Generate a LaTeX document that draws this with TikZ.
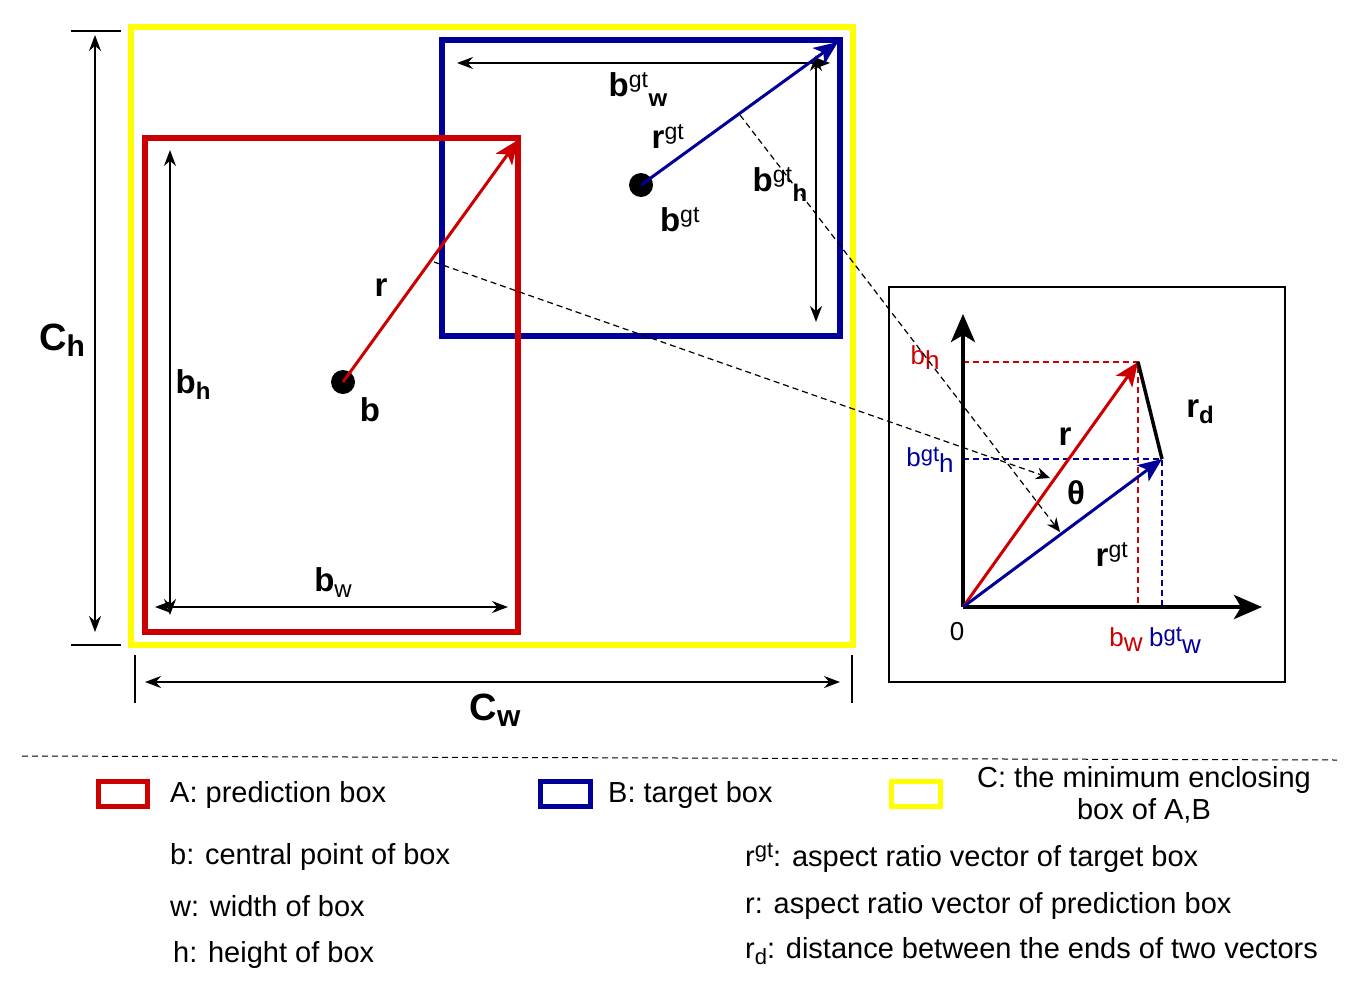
\documentclass[tikz,border=0pt]{standalone}
\usepackage{fontspec}
\setmainfont{Liberation Sans}
\usetikzlibrary{arrows.meta}
\definecolor{rd}{RGB}{204,0,0}
\definecolor{bl}{RGB}{0,0,153}
\definecolor{yl}{RGB}{255,255,0}
\begin{document}
\begin{tikzpicture}[x=1pt,y=-1pt,
  big/.style={font=\fontsize{33}{33}\selectfont\bfseries,inner sep=0},
  lab/.style={font=\fontsize{26}{26}\selectfont,inner sep=0},
  leg/.style={font=\fontsize{29}{32}\selectfont,inner sep=0,anchor=west},
  dim/.style={line width=1.6pt,{Stealth[length=16pt,width=12pt]}-{Stealth[length=16pt,width=12pt]}},
  vec/.style={line width=3pt,-{Stealth[length=24pt,width=20pt,inset=6pt]}},
  dsh/.style={dashed,line width=1.2pt,dash pattern=on 6pt off 4pt}]
\useasboundingbox (0,0) rectangle (1364,993);
% boxes
\draw[yl,line width=6pt] (131,27) rectangle (853,645);
\draw[bl,line width=6pt] (442,40) rectangle (840,336);
\draw[rd,line width=6pt] (145,138) rectangle (518,632);
% dims
\draw[dim] (457,63) -- (830,63);
\draw[dim] (816,55) -- (816,322);
\draw[dim] (170,150) -- (170,615);
\draw[dim] (155,607) -- (508,607);
\draw[line width=1.2pt] (71,31) -- (121,31) (71,645) -- (121,645) (135,655) -- (135,703) (852,655) -- (852,703);
\draw[dim] (95,35) -- (95,632);
\draw[dim] (145,682) -- (840,682);
% vectors
\node[circle,fill=black,minimum size=24pt,inner sep=0] (b) at (343,382) {};
\node[circle,fill=black,minimum size=24pt,inner sep=0] (bg) at (641,185) {};
\coordinate (rt) at (518,140);
\coordinate (gt) at (838,42);
\draw[rd,vec] (b.center) -- (rt);
\draw[bl,vec] (bg.center) -- (gt);
% labels main
\node[big] at (638,90) {b$^{\mathrm{gt}}$\raisebox{-10pt}{\fontsize{24}{24}\selectfont w}};
\node[big] at (668,137) {r$^{\mathrm{gt}}$};
\node[big] at (780,185) {b$^{\mathrm{gt}}$\raisebox{-10pt}{\fontsize{24}{24}\selectfont h}};
\node[big] at (680,220) {b$^{\mathrm{gt}}$};
\node[big] at (381,288) {r};
\node[big] at (193,385) {b\raisebox{-6pt}{\fontsize{24}{24}\selectfont h}};
\node[big] at (370,410) {b};
\node[big] at (333,583) {b\raisebox{-6pt}{\fontsize{24}{24}\selectfont\mdseries w}};
\node[big,font=\fontsize{38}{38}\selectfont\bfseries] at (62,340) {C\raisebox{-6pt}{\fontsize{30}{30}\selectfont h}};
\node[big,font=\fontsize{38}{38}\selectfont\bfseries] at (495,710) {C\raisebox{-6pt}{\fontsize{30}{30}\selectfont w}};
% inset
\draw[line width=1.5pt] (889,287) rectangle (1285,682);
\coordinate (o) at (963,607);
\coordinate (ir) at (1138,362);
\coordinate (ig) at (1162,459);
\draw[rd,dsh] (963,362) -- (ir) -- (1138,607);
\draw[bl,dsh] (963,459) -- (ig) -- (1162,607);
\draw[line width=4pt,-{Stealth[length=28pt,width=24pt,inset=7pt]}] (o) -- (963,314);
\draw[line width=4pt,-{Stealth[length=28pt,width=24pt,inset=7pt]}] (o) -- (1262,607);
\draw[rd,vec] (o) -- (ir);
\draw[bl,vec] (o) -- (ig);
\draw[line width=3.5pt] (ir) -- (ig);
\node[lab,text=rd] at (925,358) {b\raisebox{-5pt}{h}};
\node[lab,text=bl] at (930,460) {b\raisebox{5pt}{\fontsize{22}{22}\selectfont gt}\raisebox{-6pt}{h}};
\node[big] at (1065,437) {r};
\node[big] at (1076,493) {θ};
\node[big] at (1112,555) {r$^{\mathrm{gt}}$};
\node[big] at (1200,412) {r\raisebox{-6pt}{\fontsize{24}{24}\selectfont d}};
\node[lab] at (957,632) {0};
\node[lab,text=rd] at (1126,640) {b\raisebox{-5pt}{w}};
\node[lab,text=bl] at (1175,640) {b\raisebox{5pt}{\fontsize{22}{22}\selectfont gt}\raisebox{-7pt}{w}};
% connecting dashed
\coordinate (p1) at (434,262);
\coordinate (p2) at (740,115);
\draw[dsh,-{Stealth[length=14pt,width=12pt]}] (p1) -- (1050,478);
\draw[dsh,-{Stealth[length=14pt,width=12pt]}] (p2) -- (1060,532);
% separator
\draw[dsh,line width=1pt] (22,756) -- (1337,760);
% legend
\draw[rd,line width=5pt] (98,781) rectangle (147,806);
\draw[bl,line width=5pt] (540,781) rectangle (590,806);
\draw[yl,line width=5pt] (891,781) rectangle (940,806);
\node[leg] at (170,795) {A: prediction box};
\node[leg] at (608,795) {B: target box};
\node[leg,align=center,anchor=center] at (1144,795) {C: the minimum enclosing\\box of A,B};
\node[leg] at (170,857) {b: central point of box};
\node[leg] at (170,906) {w: width of box};
\node[leg] at (173,955) {h: height of box};
\node[leg] at (745,858) {r\raisebox{9pt}{\fontsize{22}{22}\selectfont gt}: aspect ratio vector of target box};
\node[leg] at (745,906) {r: aspect ratio vector of prediction box};
\node[leg] at (745,951) {r\raisebox{-6pt}{\fontsize{22}{22}\selectfont d}: distance between the ends of two vectors};
\end{tikzpicture}
\end{document}
